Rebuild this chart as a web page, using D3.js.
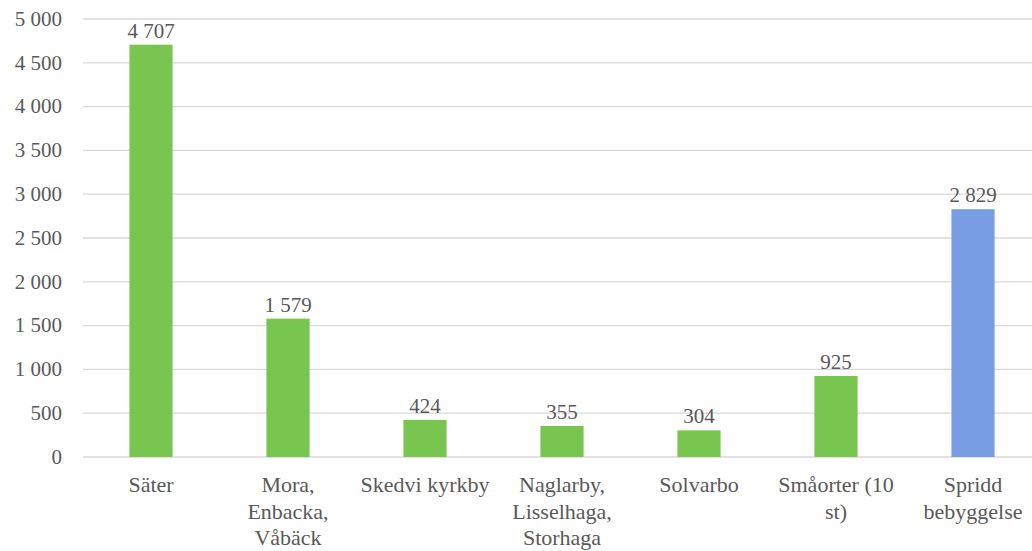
<!DOCTYPE html>
<html>
<head>
<meta charset="utf-8">
<script src="https://cdn.jsdelivr.net/npm/d3@7"></script>
<style>
  body { margin: 0; background: #fff; }
  svg text { font-family: "Liberation Serif", "Times New Roman", serif; fill: #595959; }
</style>
</head>
<body>
<div id="chart"></div>
<script>
// data
const categories = ["Säter", "Mora, Enbacka, Våbäck", "Skedvi kyrkby", "Naglarby, Lisselhaga, Storhaga", "Solvarbo", "Småorter (10 st)", "Spridd bebyggelse"];
const labelLines = [["Säter"], ["Mora,", "Enbacka,", "Våbäck"], ["Skedvi kyrkby"], ["Naglarby,", "Lisselhaga,", "Storhaga"], ["Solvarbo"], ["Småorter (10", "st)"], ["Spridd", "bebyggelse"]];
const values = [4707, 1579, 424, 355, 304, 925, 2829];
const barColors = ["#78c54f", "#78c54f", "#78c54f", "#78c54f", "#78c54f", "#78c54f", "#799de4"];
const yTicks = [0, 500, 1000, 1500, 2000, 2500, 3000, 3500, 4000, 4500, 5000];

const W = 1032, H = 551;
const svg = d3.select("#chart").append("svg").attr("width", W).attr("height", H);

const sv = d3.formatLocale({ decimal: ",", thousands: " ", grouping: [3], currency: ["", ""] });
const fmt = sv.format(",d");

// scales
const x = d3.scaleBand().domain(categories).range([82.5, 1041.5]).paddingInner(0.685).paddingOuter(0.3425);
const y = d3.scaleLinear().domain([0, 5000]).range([457, 19]);

// gridlines
svg.append("g").selectAll("line").data(yTicks).enter().append("line")
  .attr("x1", 83).attr("x2", W)
  .attr("y1", d => y(d)).attr("y2", d => y(d))
  .attr("stroke", "#d9d9d9").attr("stroke-width", 1.3);

// y axis labels
const yAxis = svg.append("g").attr("transform", "translate(62,0)")
  .call(d3.axisLeft(y).tickValues(yTicks).tickFormat(fmt).tickSize(0).tickPadding(0));
yAxis.select(".domain").remove();
yAxis.selectAll("text").style("font-size", "21px").attr("dy", "0.3em");

// bars
svg.append("g").selectAll("rect").data(values).enter().append("rect")
  .attr("x", (d, i) => x(categories[i]))
  .attr("width", x.bandwidth())
  .attr("y", d => y(d))
  .attr("height", d => y(0) - y(d))
  .attr("fill", (d, i) => barColors[i]);

// value labels
svg.append("g").selectAll("text").data(values).enter().append("text")
  .attr("x", (d, i) => x(categories[i]) + x.bandwidth() / 2)
  .attr("y", d => y(d) - 7)
  .attr("text-anchor", "middle")
  .style("font-size", "21px")
  .text(d => fmt(d));

// category labels
const cat = svg.append("g").selectAll("text").data(categories).enter().append("text")
  .attr("text-anchor", "middle")
  .style("font-size", "22px")
  .attr("transform", d => `translate(${x(d) + x.bandwidth() / 2},492)`);
cat.each(function (d, i) {
  d3.select(this).selectAll("tspan").data(labelLines[i]).enter().append("tspan")
    .attr("x", 0).attr("y", (l, j) => j * 26.5)
    .text(l => l);
});
</script>
</body>
</html>
